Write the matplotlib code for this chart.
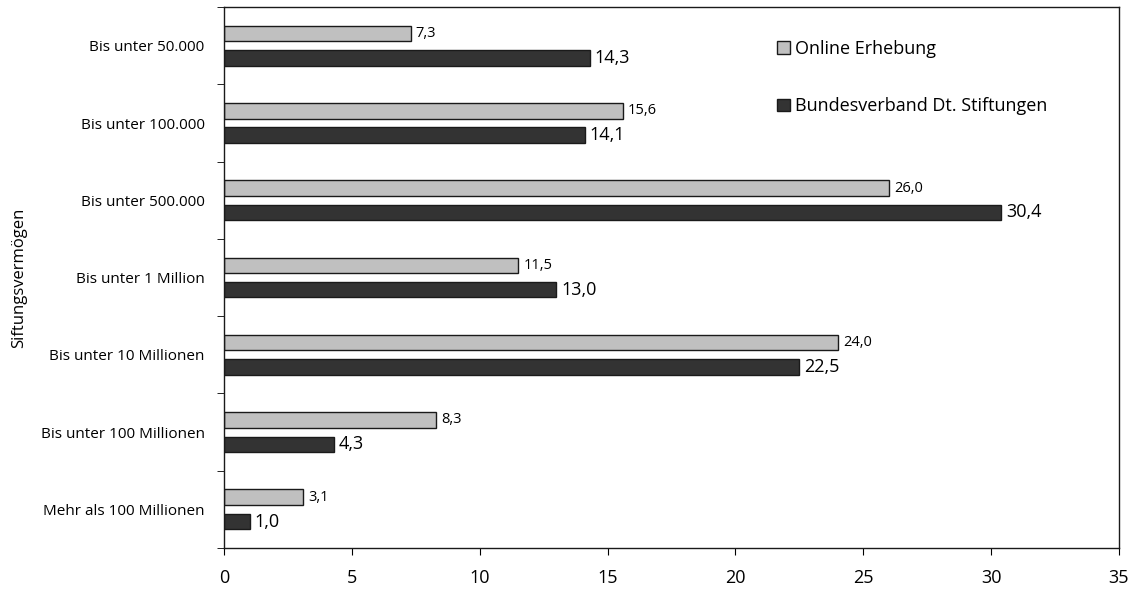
import matplotlib.pyplot as plt
from matplotlib.ticker import FixedLocator
import numpy as np

categories = ['Bis unter 50.000', 'Bis unter 100.000', 'Bis unter 500.000', 'Bis unter 1 Million',
              'Bis unter 10 Millionen', 'Bis unter 100 Millionen', 'Mehr als 100 Millionen']
online = [7.3, 15.6, 26.0, 11.5, 24.0, 8.3, 3.1]
bundesverband = [14.3, 14.1, 30.4, 13.0, 22.5, 4.3, 1.0]
series_names = ['Online Erhebung', 'Bundesverband Dt. Stiftungen']

plt.rcParams['font.family'] = ['Open Sans', 'DejaVu Sans']

fig = plt.figure(figsize=(11.32, 5.92), dpi=100)
ax = fig.add_axes([0.1979, 0.0743, 0.7906, 0.9137])

y = np.arange(len(categories))
offset = 0.158
height = 0.2

bars1 = ax.barh(y - offset, online, height=height, color='#c0c0c0', edgecolor='#1a1a1a', linewidth=1, label=series_names[0])
bars2 = ax.barh(y + offset, bundesverband, height=height, color='#333333', edgecolor='#1a1a1a', linewidth=1, label=series_names[1])

for b, v in zip(bars1, online):
    ax.text(b.get_width() + 0.2, b.get_y() + b.get_height() / 2, format(v, '.1f').replace('.', ','),
            va='center', ha='left', fontsize=10.5)
for b, v in zip(bars2, bundesverband):
    ax.text(b.get_width() + 0.2, b.get_y() + b.get_height() / 2, format(v, '.1f').replace('.', ','),
            va='center', ha='left', fontsize=13)

ax.set_xlim(0, 35)
ax.set_ylim(len(categories) - 0.5, -0.5)
ax.set_xticks(range(0, 36, 5))
ax.tick_params(axis='x', labelsize=13, length=5, direction='out', pad=10)

ax.set_yticks(y)
ax.set_yticklabels(categories, fontsize=11)
ax.tick_params(axis='y', which='major', length=0, pad=14)
ax.yaxis.set_minor_locator(FixedLocator(np.arange(-0.5, len(categories), 1)))
ax.tick_params(axis='y', which='minor', length=5, direction='out')

ax.set_ylabel('Siftungsvermögen', fontsize=12)
ax.yaxis.set_label_coords(-0.22, 0.5)

for s in ax.spines.values():
    s.set_linewidth(1)
    s.set_color('#1a1a1a')

ax.legend(loc='upper left', bbox_to_anchor=(0.6, 0.97), frameon=False, fontsize=13,
          handlelength=0.7, handleheight=0.7, handletextpad=0.3, labelspacing=2.2)

fig.savefig('out.png', dpi=100)
